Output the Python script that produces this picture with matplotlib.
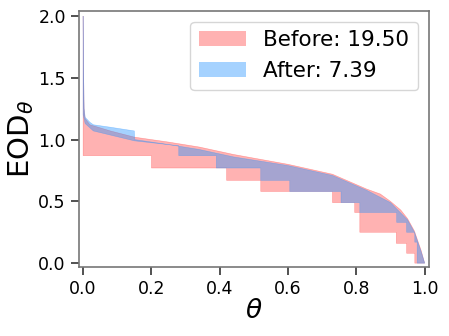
from matplotlib import pyplot as plt
import numpy as np

# upper envelope, before
before_up_t = [0.0, 0.001, 0.003, 0.006, 0.02, 0.08, 0.15, 0.25, 0.34, 0.44, 0.52, 0.60, 0.73, 0.83, 0.87, 0.90, 0.93, 0.95, 0.97, 0.98, 0.99, 1.0]
before_up_v = [2.0, 1.6, 1.25, 1.17, 1.12, 1.07, 1.02, 0.98, 0.94, 0.88, 0.84, 0.80, 0.72, 0.60, 0.56, 0.50, 0.43, 0.36, 0.26, 0.18, 0.10, 0.0]
# lower envelope, before (steps: edges and levels)
before_lo_edges = [0.0, 0.20, 0.42, 0.52, 0.73, 0.795, 0.81, 0.917, 0.947, 0.971, 1.0]
before_lo_levels = [0.87, 0.77, 0.67, 0.58, 0.49, 0.41, 0.25, 0.16, 0.08, 0.0]

# upper envelope, after
after_up_t = [0.0, 0.001, 0.003, 0.006, 0.02, 0.03, 0.08, 0.15, 0.151, 0.25, 0.34, 0.44, 0.60, 0.73, 0.83, 0.90, 0.95, 0.97, 0.99, 1.0]
after_up_v = [2.0, 1.6, 1.25, 1.18, 1.14, 1.12, 1.10, 1.07, 1.0, 0.96, 0.92, 0.86, 0.79, 0.71, 0.59, 0.49, 0.35, 0.25, 0.09, 0.0]
# lower envelope, after
after_lo_t = [0.0, 0.006, 0.03, 0.15, 0.28]
after_lo_v = [1.2, 1.13, 1.07, 0.99, 0.95]
after_lo_edges = [0.28, 0.39, 0.52, 0.605, 0.755, 0.81, 0.918, 0.947, 0.971, 0.978, 1.0]
after_lo_levels = [0.87, 0.77, 0.67, 0.58, 0.49, 0.41, 0.33, 0.25, 0.17, 0.0]

labels = ['Before: 19.50', 'After: 7.39']


def stepVerts(edges, levels):
    xs = np.repeat(edges, 2)[1:-1]
    ys = np.repeat(levels, 2)
    return list(xs), list(ys)


plt.rcParams['font.family'] = 'DejaVu Sans'
fig = plt.figure(figsize=(4.49, 3.36), dpi=100)
ax = fig.add_axes([0.176, 0.205, 0.779, 0.762])

# before
bx, by = stepVerts(before_lo_edges, before_lo_levels)
polyX = before_up_t + bx[::-1]
polyY = before_up_v + by[::-1]
ax.fill(polyX, polyY, color='red', alpha=0.3, lw=0.4, label=labels[0])

# after
ax_, ay_ = stepVerts(after_lo_edges, after_lo_levels)
loX = after_lo_t + ax_
loY = after_lo_v + ay_
polyX = after_up_t + loX[::-1]
polyY = after_up_v + loY[::-1]
ax.fill(polyX, polyY, color='dodgerblue', alpha=0.4, lw=0.4, label=labels[1])

ax.set_xlim(-0.012, 1.012)
ax.set_ylim(-0.032, 2.04)
ax.set_xticks([0.0, 0.2, 0.4, 0.6, 0.8, 1.0])
ax.set_yticks([0.0, 0.5, 1.0, 1.5, 2.0])
ax.tick_params(labelsize=12.5, length=6, width=1.2, color='#333333')
for s in ax.spines.values():
    s.set_color('#777777')
    s.set_linewidth(1.2)
ax.set_xlabel(r'$\theta$', fontsize=19, labelpad=0)
ax.set_ylabel(r'EOD$_\theta$', fontsize=21, labelpad=2)
leg = ax.legend(loc='upper right', fontsize=15.5, handlelength=2.2, borderaxespad=0.5)
for h in leg.legend_handles:
    h.set_linewidth(0)

fig.savefig('out.png', dpi=100)
